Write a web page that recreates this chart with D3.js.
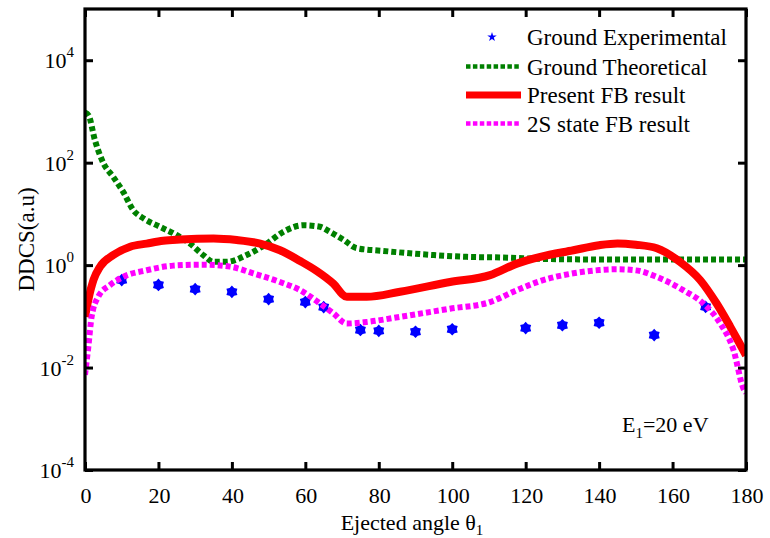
<!DOCTYPE html>
<html><head><meta charset="utf-8">
<script src="https://cdn.jsdelivr.net/npm/d3@7"></script>
<style>body{margin:0;background:#fff}svg{display:block}text{font-family:"Liberation Serif","Times New Roman",serif;fill:#000}</style>
</head><body><svg id="c" width="770" height="538"></svg>
<script>
// ---- data ----
const xTicks = [0,20,40,60,80,100,120,140,160,180];
const yTickExp = [-4,-2,0,2,4];
const expTheta = [10,20,30,40,50,60,65,75,80,90,100,120,130,140,155,169];
const expVal   = [0.51,0.41,0.34,0.30,0.217,0.19,0.151,0.054,0.052,0.050,0.056,0.059,0.067,0.075,0.043,0.153];
const thTheta = [0,1,2.7,5,7.7,10.4,13.2,16,20.4,25,28.6,32.2,35,38.6,44,49.5,54,59.5,64,66.7,70.3,74,81,95,104,113,125,140,160,180];
const thVal   = [950,830,275,98,52.5,26.9,11.7,8.1,5.6,3.85,2.63,1.57,1.16,1.16,1.57,2.63,4.47,6.0,5.6,4.47,3.16,2.14,1.9,1.57,1.45,1.41,1.32,1.29,1.29,1.29];
const fbTheta = [0,0.9,2.3,4.1,7.7,12.3,16.8,21.3,25.9,35,41.3,47.7,53.1,58.6,63.1,67.6,71.3,76.7,85.8,99.4,110.3,117.6,124,133,140,145,150,155.7,162,167.5,172,175.7,178,180];
const fbVal   = [0.098,0.21,0.51,0.93,1.57,2.29,2.63,2.99,3.16,3.31,3.09,2.63,1.95,1.2,0.767,0.437,0.24,0.24,0.302,0.468,0.638,1.07,1.45,1.95,2.45,2.65,2.5,2.14,1.16,0.513,0.178,0.063,0.032,0.0174];
const s2Theta = [0,0.9,1.8,3.6,6.8,10.4,16.8,24,32.2,39.5,45.8,53.1,58.6,64,67.6,71.3,76.7,85.8,99.4,110.3,117.6,124,133,140,145,150,155.7,162.9,168.4,173,176.6,179.3,180];
const s2Val   = [0.0072,0.025,0.098,0.24,0.407,0.589,0.794,0.977,1.02,0.933,0.692,0.468,0.324,0.178,0.115,0.0724,0.0776,0.0977,0.141,0.19,0.324,0.49,0.692,0.8,0.83,0.79,0.589,0.324,0.178,0.0724,0.0219,0.0039,0.0032];
const legendLabels = ["Ground Experimental","Ground Theoretical","Present FB result","2S state FB result"];

// ---- layout ----
const svg = d3.select("#c");
const L=85,R=746,T=9,B=470;
const x = d3.scaleLinear().domain([0,180]).range([L,R]);
const y = d3.scaleLog().domain([1e-4,1e5]).range([B,T]);
const FONT = 22;

svg.append("defs").append("clipPath").attr("id","clip")
  .append("rect").attr("x",L).attr("y",T).attr("width",R-L).attr("height",B-T);

const plot = svg.append("g").attr("clip-path","url(#clip)");

// hexagram-like fat star symbol
const fatStar = { draw(ctx, size){
  const r = Math.sqrt(size)/2, ri = r*0.72;
  for(let i=0;i<12;i++){
    const a = -Math.PI/2 + i*Math.PI/6, rr = i%2?ri:r;
    const px = rr*Math.cos(a), py = rr*Math.sin(a);
    i?ctx.lineTo(px,py):ctx.moveTo(px,py);
  }
  ctx.closePath();
}};

// experimental stars
plot.selectAll("path.exp").data(expTheta.map((t,i)=>[t,expVal[i]])).join("path")
  .attr("class","exp")
  .attr("d", d3.symbol().type(fatStar).size(160))
  .attr("transform", d=>`translate(${x(d[0])},${y(d[1])})`)
  .attr("fill","#0000ff");

const line = d3.line().x(d=>x(d[0])).y(d=>y(d[1])).curve(d3.curveMonotoneX);
const series = [
  {t:thTheta, v:thVal, color:"#008000", w:6, dash:"5,3"},
  {t:fbTheta, v:fbVal, color:"#ff0000", w:8, dash:null},
  {t:s2Theta, v:s2Val, color:"#ff00ff", w:6, dash:"5,3"}
];
series.forEach(s=>{
  plot.append("path").datum(s.t.map((t,i)=>[t,s.v[i]]))
    .attr("d",line).attr("fill","none").attr("stroke",s.color)
    .attr("stroke-width",s.w).attr("stroke-dasharray",s.dash)
    .attr("stroke-linejoin","round");
});

// ---- axes ----
function styleAxis(g){
  g.select(".domain").remove();
  g.selectAll(".tick line").attr("stroke","#000").attr("stroke-width",3);
  g.selectAll(".tick text").remove();
}
const yTicks = yTickExp.map(e=>Math.pow(10,e));
svg.append("g").attr("transform",`translate(0,${B})`)
  .call(d3.axisBottom(x).tickValues(xTicks).tickSizeInner(-8).tickSizeOuter(0)).call(styleAxis);
svg.append("g").attr("transform",`translate(0,${T})`)
  .call(d3.axisTop(x).tickValues(xTicks).tickSizeInner(-8).tickSizeOuter(0)).call(styleAxis);
svg.append("g").attr("transform",`translate(${L},0)`)
  .call(d3.axisLeft(y).tickValues(yTicks).tickSizeInner(-8).tickSizeOuter(0)).call(styleAxis);
svg.append("g").attr("transform",`translate(${R},0)`)
  .call(d3.axisRight(y).tickValues(yTicks).tickSizeInner(-8).tickSizeOuter(0)).call(styleAxis);

svg.append("rect").attr("x",L).attr("y",T).attr("width",R-L).attr("height",B-T)
  .attr("fill","none").attr("stroke","#000").attr("stroke-width",3.2);

// x tick labels
svg.selectAll("text.xt").data(xTicks).join("text").attr("class","xt")
  .attr("x",d=>x(d)+1).attr("y",503).attr("text-anchor","middle")
  .attr("font-size",FONT).text(d=>d);

// y tick labels
yTickExp.forEach(e=>{
  const t = svg.append("text").attr("x",74).attr("y",y(Math.pow(10,e))+8)
    .attr("text-anchor","end").attr("font-size",FONT);
  t.append("tspan").text("10");
  t.append("tspan").attr("dy",-11).attr("font-size",15).text(e);
});

// axis titles
const xl = svg.append("text").attr("x",412).attr("y",530).attr("text-anchor","middle").attr("font-size",FONT);
xl.append("tspan").text("Ejected angle θ");
xl.append("tspan").attr("dy",5).attr("font-size",15).text("1");

svg.append("text").attr("transform",`translate(34,${(T+B)/2}) rotate(-90)`)
  .attr("text-anchor","middle").attr("font-size",23).text("DDCS(a.u)");

// annotation
const ann = svg.append("text").attr("x",622).attr("y",432).attr("font-size",FONT);
ann.append("tspan").text("E");
ann.append("tspan").attr("dy",6).attr("font-size",15).text("1");
ann.append("tspan").attr("dy",-6).text("=20 eV");

// ---- legend ----
const legY = [37,66.5,95,123.5];
const lg = svg.append("g");
lg.append("path").attr("d",d3.symbol().type(d3.symbolStar).size(28))
  .attr("transform",`translate(492,${legY[0]})`).attr("fill","#0000ff");
series.forEach((s,i)=>{
  lg.append("line").attr("x1",466).attr("x2",521).attr("y1",legY[i+1]).attr("y2",legY[i+1])
    .attr("stroke",s.color).attr("stroke-width",s.dash?4.5:7).attr("stroke-dasharray",s.dash?"4.5,2.4":null);
});
legendLabels.forEach((lab,i)=>{
  lg.append("text").attr("x",527).attr("y",legY[i]+8).attr("font-size",23).text(lab);
});
</script></body></html>
